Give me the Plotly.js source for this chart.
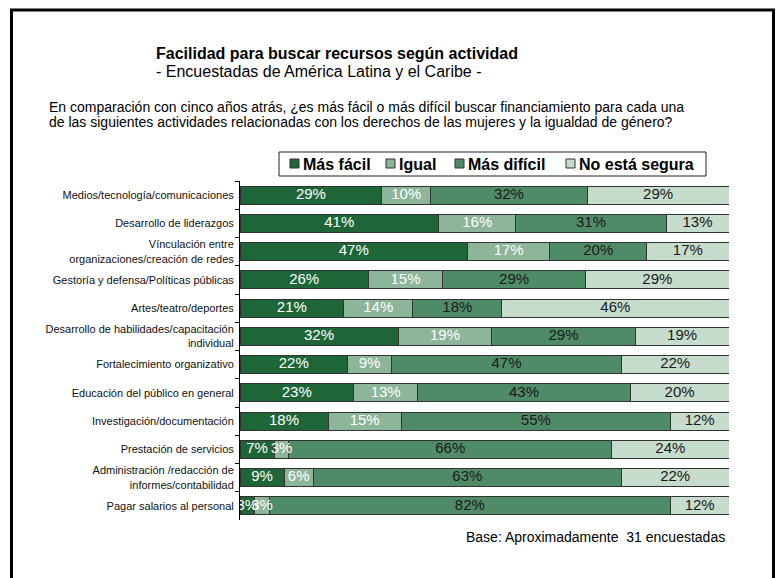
<!DOCTYPE html>
<html>
<head>
<meta charset="utf-8">
<script src="https://cdn.plot.ly/plotly-3.0.1.min.js"></script>
<style>
  html, body { margin: 0; padding: 0; background: #fff; }
  #chart { width: 779px; height: 578px; }
</style>
</head>
<body>
<div id="chart"></div>
<script>
// ---- Data ----
const categories = [
  "Medios/tecnología/comunicaciones",
  "Desarrollo de liderazgos",
  "Vínculación entre<br>organizaciones/creación de redes",
  "Gestoría y defensa/Políticas públicas",
  "Artes/teatro/deportes",
  "Desarrollo de habilidades/capacitación<br>individual",
  "Fortalecimiento organizativo",
  "Educación del público en general",
  "Investigación/documentación",
  "Prestación de servicios",
  "Administración /redacción de<br>informes/contabilidad",
  "Pagar salarios al personal"
];
const seriesNames = ["Más fácil", "Igual", "Más difícil", "No está segura"];
const masFacil     = [29, 41, 47, 26, 21, 32, 22, 23, 18, 7, 9, 3];
const igual        = [10, 16, 17, 15, 14, 19, 9, 13, 15, 3, 6, 3];
const masDificil   = [32, 31, 20, 29, 18, 29, 47, 43, 55, 66, 63, 82];
const noEstaSegura = [29, 13, 17, 29, 46, 19, 22, 20, 12, 24, 22, 12];
const seriesValues = [masFacil, igual, masDificil, noEstaSegura];

const titleText = "Facilidad para buscar recursos según actividad";
const subtitleText = "- Encuestadas de América Latina y el Caribe -";
const questionLines = [
  "En comparación con cinco años atrás, ¿es más fácil o más difícil buscar financiamiento para cada una",
  "de las siguientes actividades relacionadas con los derechos de las mujeres y la igualdad de género?"
];
const baseText = "Base: Aproximadamente&nbsp; 31 encuestadas";

// ---- Styles ----
const colors = ["#1e6638", "#8cb59a", "#508b67", "#c6dccc"];
const textColors = ["#ffffff", "#ffffff", "#1a1a1a", "#1a1a1a"];
const FONT = "Liberation Sans, Arial, sans-serif";

// layout geometry (pixels)
const W = 779, H = 578;
const M = { l: 240, r: 50, t: 181, b: 58 };
const PW = W - M.l - M.r, PH = H - M.t - M.b;
const px = x => (x - M.l) / PW;
const py = y => (H - M.b - y) / PH;

// row totals for normalisation to 100 %
const totals = categories.map((c, j) => seriesValues.reduce((s, arr) => s + arr[j], 0));

const barTraces = seriesNames.map((name, i) => ({
  type: "bar",
  orientation: "h",
  name: name,
  y: categories,
  x: seriesValues[i],
  marker: { color: colors[i], line: { color: "#333333", width: 1 } },
  hoverinfo: "skip",
  showlegend: false
}));

// value labels drawn above all bars, at each segment's centre
const labelTraces = seriesNames.map((name, i) => ({
  type: "scatter",
  mode: "text",
  y: categories,
  x: categories.map((c, j) => {
    let before = 0;
    for (let k = 0; k < i; k++) before += seriesValues[k][j];
    return (before + seriesValues[i][j] / 2) / totals[j] * 100;
  }),
  text: seriesValues[i].map(v => v + "%"),
  textposition: "middle center",
  textfont: { family: FONT, size: 15, color: textColors[i] },
  cliponaxis: false,
  hoverinfo: "skip",
  showlegend: false
}));

// custom legend
const legendShapes = [];
const legendAnn = [];
const legSq = [290, 386, 455, 566];
const legTx = [301, 397, 466, 577];
legendShapes.push({
  type: "rect", xref: "paper", yref: "paper",
  x0: px(279), x1: px(706), y0: py(152), y1: py(176),
  line: { color: "#222", width: 1 }, fillcolor: "rgba(0,0,0,0)"
});
seriesNames.forEach((n, i) => {
  legendShapes.push({
    type: "rect", xref: "paper", yref: "paper",
    x0: px(legSq[i]), x1: px(legSq[i] + 9), y0: py(159), y1: py(168),
    line: { color: "#333", width: 1 }, fillcolor: colors[i]
  });
  legendAnn.push({
    xref: "paper", yref: "paper", x: px(legTx[i]), y: py(164),
    xanchor: "left", yanchor: "middle", showarrow: false,
    text: "<b>" + n + "</b>",
    font: { family: FONT, size: 16, color: "#000" }
  });
});

const frame = {
  type: "rect", xref: "paper", yref: "paper",
  x0: px(11.5), x1: px(773.5), y0: py(10), y1: py(640),
  line: { color: "#000", width: 3 }, fillcolor: "rgba(0,0,0,0)", layer: "above"
};

const questionAnn = questionLines.map((t, i) => ({
  xref: "paper", yref: "paper", x: px(47), y: py(107 + i * 15), xanchor: "left", yanchor: "middle",
  showarrow: false, text: t, font: { family: FONT, size: 14, color: "#000" }
}));

const layout = {
  width: W, height: H,
  margin: M,
  paper_bgcolor: "#fff", plot_bgcolor: "#fff",
  barmode: "stack", barnorm: "percent", bargap: 0.36,
  showlegend: false,
  font: { family: FONT, color: "#000" },
  xaxis: { range: [0, 100], visible: false, fixedrange: true },
  yaxis: {
    type: "category",
    categoryorder: "array", categoryarray: categories,
    range: [categories.length - 0.5, -0.5],
    showline: true, linecolor: "#000", linewidth: 1,
    ticks: "outside", tickson: "boundaries", ticklen: 4, tickcolor: "#000",
    ticklabelstandoff: 3,
    showgrid: false, zeroline: false,
    tickfont: { family: FONT, size: 11, color: "#111" },
    fixedrange: true
  },
  shapes: [frame].concat(legendShapes),
  annotations: [
    { xref: "paper", yref: "paper", x: px(154), y: py(54), xanchor: "left", yanchor: "middle",
      showarrow: false, text: "<b>" + titleText + "</b>", font: { family: FONT, size: 16, color: "#000" } },
    { xref: "paper", yref: "paper", x: px(154), y: py(71), xanchor: "left", yanchor: "middle",
      showarrow: false, text: subtitleText, font: { family: FONT, size: 16, color: "#000" } },
    { xref: "paper", yref: "paper", x: px(727), y: py(537), xanchor: "right", yanchor: "middle",
      showarrow: false, text: baseText, font: { family: FONT, size: 14, color: "#000" } }
  ].concat(questionAnn, legendAnn)
};

Plotly.newPlot("chart", barTraces.concat(labelTraces), layout, { displayModeBar: false, staticPlot: true });
</script>
</body>
</html>
